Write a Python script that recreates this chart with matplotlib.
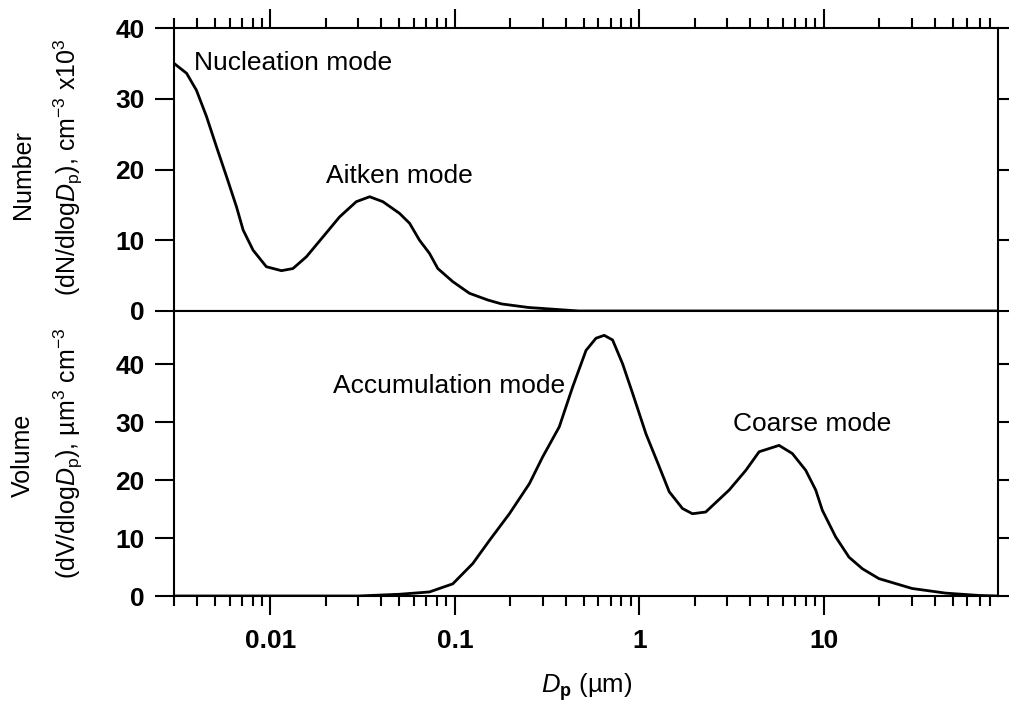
import numpy as np
import matplotlib
matplotlib.use('Agg')
import matplotlib.pyplot as plt
from matplotlib.ticker import LogLocator, NullFormatter, FixedLocator, FixedFormatter

plt.rcParams['font.family'] = ['Liberation Sans', 'DejaVu Sans']
plt.rcParams['mathtext.fontset'] = 'custom'
plt.rcParams['mathtext.rm'] = 'Liberation Sans'
plt.rcParams['mathtext.it'] = 'Liberation Sans:italic'
plt.rcParams['mathtext.bf'] = 'Liberation Sans:bold'

# number size distribution
dp_num = [0.0030, 0.00351, 0.00397, 0.0045, 0.0051, 0.00578, 0.00655, 0.00711,
          0.00805, 0.0095, 0.01147, 0.01324, 0.01567, 0.0193, 0.0237, 0.0292,
          0.0345, 0.0407, 0.0501, 0.0568, 0.0643, 0.0728, 0.0808, 0.0974,
          0.12, 0.151, 0.179, 0.25, 0.47, 88.0]
num = [35.0, 33.6, 31.2, 27.5, 23.2, 19.0, 14.7, 11.45,
       8.6, 6.26, 5.7, 6.0, 7.67, 10.5, 13.3, 15.45,
       16.15, 15.45, 13.8, 12.4, 10.0, 8.15, 6.0, 4.15,
       2.5, 1.55, 1.0, 0.5, 0.0, 0.0]

# volume size distribution
dp_vol = [0.003, 0.03, 0.05, 0.0728, 0.0974, 0.125, 0.154, 0.1975, 0.2535,
          0.299, 0.368, 0.435, 0.514, 0.582, 0.645, 0.716, 0.811, 0.919,
          1.086, 1.283, 1.452, 1.714, 1.94, 2.29, 3.07, 3.78, 4.46, 5.72,
          6.75, 7.98, 9.04, 9.82, 11.6, 13.7, 16.2, 19.9, 30.1, 45.7, 69.0, 88.0]
vol = [0.0, 0.0, 0.3, 0.7, 2.1, 5.6, 9.6, 14.2, 19.4,
       24.0, 29.2, 36.1, 42.4, 44.5, 45.0, 44.2, 40.1, 35.0,
       28.0, 22.3, 18.0, 15.1, 14.2, 14.5, 18.3, 21.7, 24.9, 26.0,
       24.6, 21.7, 18.3, 14.8, 10.2, 6.7, 4.7, 3.0, 1.3, 0.5, 0.1, 0.0]

xticks = [0.01, 0.1, 1, 10]
xticklabels = ['0.01', '0.1', '1', '10']
yticks = [0, 10, 20, 30, 40]

W, H = 1009, 704
fig = plt.figure(figsize=(W / 100, H / 100), dpi=100)
left, right = 174 / W, 998 / W
ax1 = fig.add_axes([left, 1 - 311 / H, right - left, (311 - 28) / H])
ax2 = fig.add_axes([left, 1 - 596 / H, right - left, (596 - 311) / H])

lw = 2.0
ax1.plot(dp_num, num, color='black', lw=lw, solid_joinstyle='round')
ax2.plot(dp_vol, vol, color='black', lw=lw, solid_joinstyle='round')

tick_font = dict(fontsize=19, fontweight='bold')
for ax in (ax1, ax2):
    ax.set_xscale('log')
    ax.set_xlim(0.003, 88)
    for s in ax.spines.values():
        s.set_linewidth(1.5)
    ax.xaxis.set_major_locator(FixedLocator(xticks))
    ax.xaxis.set_minor_locator(LogLocator(base=10, subs=np.arange(2, 10), numticks=20))
    ax.xaxis.set_minor_formatter(NullFormatter())
    ax.set_yticks(yticks)
    ax.set_yticklabels([str(v) for v in yticks], **tick_font)
    ax.tick_params(axis='both', which='major', direction='out', length=14, width=1.5)
    ax.tick_params(axis='both', which='minor', direction='out', length=7, width=1.5)
    ax.tick_params(axis='y', left=True, right=True, labelleft=True, labelright=False, pad=7)

ax1.set_ylim(0, 40)
ax1.tick_params(axis='x', which='both', top=True, bottom=False, labelbottom=False, labeltop=False)

ax2.set_ylim(0, 49.2)
ax2.tick_params(axis='x', which='both', top=False, bottom=True, labelbottom=True, pad=10)
ax2.xaxis.set_major_formatter(FixedFormatter(xticklabels))
for lab in ax2.get_xticklabels():
    lab.set_fontsize(19)
    lab.set_fontweight('bold')

# mode labels
txt = dict(fontsize=19, ha='left', va='center')
ax1.text(0.00383, 35.0, 'Nucleation mode', **txt)
ax1.text(0.0199, 19.1, 'Aitken mode', **txt)
ax2.text(0.0219, 36.2, 'Accumulation mode', **txt)
ax2.text(3.21, 29.7, 'Coarse mode', **txt)

# axis titles
lab = dict(fontsize=18, rotation=90, ha='center', va='center')
fig.text(23 / W, 1 - 175 / H, 'Number', **lab)
fig.text(68 / W, 1 - 167 / H, r'(dN/dlog$\mathit{D}_{\mathrm{p}}$), cm$^{-3}$ x10$^{3}$', **lab)
fig.text(23 / W, 1 - 455 / H, 'Volume', **lab)
fig.text(68 / W, 1 - 453 / H, r'(dV/dlog$\mathit{D}_{\mathrm{p}}$), µm$^{3}$ cm$^{-3}$', **lab)
fig.text(587 / W, 1 - 693 / H, r'$\mathit{D}_{\mathbf{p}}$ (µm)', fontsize=18.5,
         ha='center', va='baseline')

fig.savefig('out.png', dpi=100, facecolor='white')
